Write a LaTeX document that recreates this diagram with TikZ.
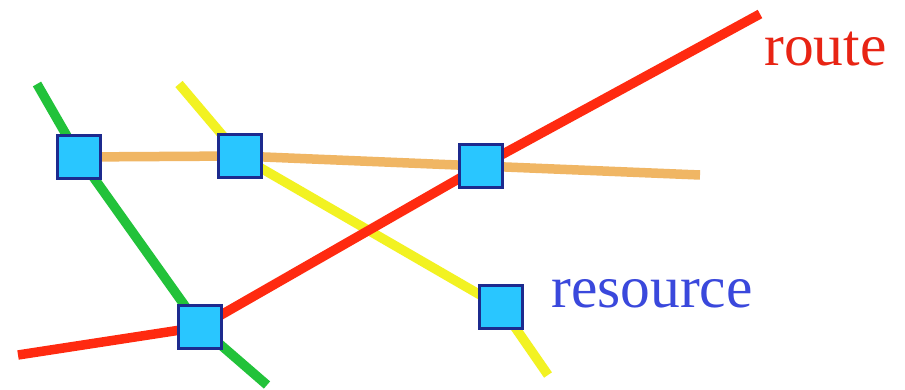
\documentclass[tikz,border=0pt]{standalone}
\usepackage{fontspec}
\setmainfont{Liberation Serif}
\definecolor{cRed}{HTML}{FF2A10}
\definecolor{cGreen}{HTML}{22C23A}
\definecolor{cYellow}{HTML}{F2F222}
\definecolor{cOrange}{HTML}{F0B664}
\definecolor{cFill}{HTML}{29C6FF}
\definecolor{cEdge}{HTML}{1C2A8E}
\definecolor{cRoute}{HTML}{E82414}
\definecolor{cRes}{HTML}{3A48DC}
\pgfdeclarelayer{bg}
\pgfsetlayers{bg,main}
\tikzset{
  res/.style={draw=cEdge, line width=2.2pt, fill=cFill, minimum size=43pt, inner sep=0pt},
  track/.style={line width=9.5pt, line join=round},
  lbl/.style={font=\fontsize{59.5}{62}\selectfont, inner sep=0pt, anchor=base west}
}
\begin{document}
\begin{tikzpicture}[x=1pt,y=-1pt]
\begin{pgfonlayer}{bg}
\fill[white] (0,0) rectangle (905,390);
\end{pgfonlayer}
\useasboundingbox (0,0) rectangle (905,390);
% resources
\node[res] (s1) at (79,157) {};
\node[res] (s2) at (240,156) {};
\node[res] (s3) at (481,166) {};
\node[res] (s4) at (200,327) {};
\node[res] (s5) at (501,307) {};
% free ends
\coordinate (g0) at (37,84);
\coordinate (g1) at (267,385);
\coordinate (y0) at (179,84);
\coordinate (y1) at (548,375);
\coordinate (o1) at (700,175);
\coordinate (r0) at (18,355);
\coordinate (r1) at (760,14);
% tracks
\begin{pgfonlayer}{bg}
\draw[track, cOrange] (s1.center) -- (s2.center) -- (s3.center) -- (o1);
\draw[track, cGreen] (g0) -- (s1.center) -- (s4.center) -- (g1);
\draw[track, cYellow] (y0) -- (s2.center) -- (s5.center) -- (y1);
\draw[track, cRed] (r0) -- (s4.center) -- (s3.center) -- (r1);
\end{pgfonlayer}
\node[lbl, text=cRoute] (route) at (764,66) {route};
\node[lbl, text=cRes] (resource) at (551,307) {resource};
\end{tikzpicture}
\end{document}
